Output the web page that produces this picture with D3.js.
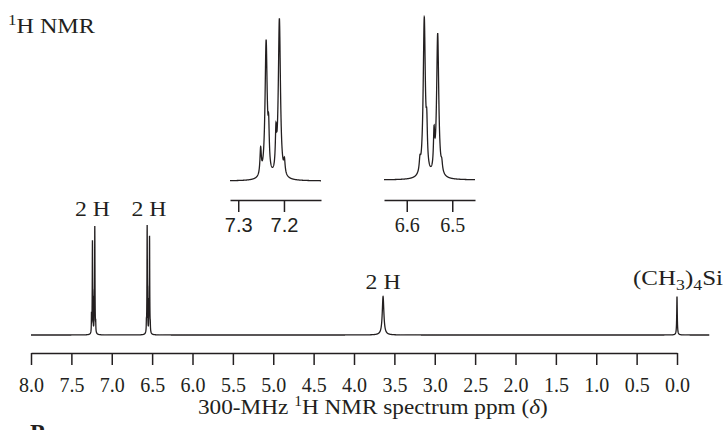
<!DOCTYPE html>
<html><head><meta charset="utf-8">
<script src="https://cdn.jsdelivr.net/npm/d3@7"></script>
<style>body{margin:0;background:#fff}svg{display:block}</style>
</head><body><svg id="c" width="725" height="430"></svg>
<script>
// ---- data ----
const peakPpm    = [7.251, 7.239, 7.2335, 7.2175, 7.210, 7.199, 6.571, 6.5615, 6.556, 6.540, 6.532, 6.523, 3.64, 0.00];
const peakHeight = [16,    83,    22,     22,     97,    8,     7,     97,     22,    22,    88,    5,     35,   35];
const peakWidth  = [0.0018,0.0028,0.0016, 0.0016, 0.0028,0.0018,0.0018,0.0028, 0.0016,0.0016,0.0028,0.0018,0.012,0.004];
const mainTicks  = [8.0, 7.5, 7.0, 6.5, 6.0, 5.5, 5.0, 4.5, 4.0, 3.5, 3.0, 2.5, 2.0, 1.5, 1.0, 0.5, 0.0];
const inset1Ticks = [7.3, 7.2];
const inset2Ticks = [6.6, 6.5];
const integrationLabels = ["2 H", "2 H", "2 H"];
const integrationPpm = [7.22, 6.545, 3.64];

const INK = "#231f20";
const svg = d3.select("#c");

function intensity(x){
  let s = 0;
  for (let i = 0; i < peakPpm.length; i++){
    const w = peakWidth[i], d = x - peakPpm[i];
    s += peakHeight[i] * w * w / (d * d + w * w);
  }
  return s;
}
function grid(a, b, step){
  const g = d3.range(a, b, -step).concat(peakPpm.filter(p => p <= a && p >= b));
  g.sort((p, q) => q - p);
  return g.map(x => [x, intensity(x)]);
}
const mainData = grid(8.0, -0.4, 0.0004);
const maxI = d3.max(mainData, d => d[1]);

// ---- main spectrum ----
const xMain = d3.scaleLinear().domain([8, 0]).range([31, 677]);
const yMain = d3.scaleLinear().domain([0, maxI]).range([335, 225]);
svg.append("path").datum(mainData)
  .attr("d", d3.line().x(d => xMain(d[0])).y(d => yMain(d[1])))
  .attr("fill", "none").attr("stroke", INK).attr("stroke-width", 1.3);

const axMain = svg.append("g").attr("transform", "translate(0,353)")
  .call(d3.axisBottom(xMain).tickValues(mainTicks).tickSize(12).tickSizeOuter(0).tickFormat(d3.format(".1f")));
axMain.select(".domain").attr("stroke", INK).attr("stroke-width", 1.5);
axMain.selectAll(".tick line").attr("stroke", INK).attr("stroke-width", 1.5);
axMain.selectAll(".tick text").attr("y", 39).attr("dy", 0)
  .attr("font-family", "'Liberation Serif', serif").attr("font-size", 20).attr("fill", INK);

// ---- insets ----
function inset(dom, range, base, ticks, fontFam){
  const x = d3.scaleLinear().domain(dom).range(range);
  const y = d3.scaleLinear().domain([0, maxI]).range([base, 17]);
  const data = grid(dom[0], dom[1], 0.0002);
  svg.append("path").datum(data)
    .attr("d", d3.line().x(d => x(d[0])).y(d => y(d[1])))
    .attr("fill", "none").attr("stroke", INK).attr("stroke-width", 1.3);
  const ax = svg.append("g").attr("transform", "translate(0,200)")
    .call(d3.axisBottom(x).tickValues(ticks).tickSize(12).tickSizeOuter(0).tickFormat(d3.format(".1f")));
  ax.select(".domain").attr("stroke", INK).attr("stroke-width", 1.5);
  ax.selectAll(".tick line").attr("stroke", INK).attr("stroke-width", 1.5);
  ax.selectAll(".tick text").attr("y", 32).attr("dy", 0)
    .attr("font-family", fontFam).attr("font-size", 20).attr("fill", INK);
}
inset([7.318, 7.119], [230, 321], 181, inset1Ticks, "'Liberation Sans', sans-serif");
inset([6.650, 6.450], [384, 475], 180, inset2Ticks, "'Liberation Serif', serif");

// ---- text helpers ----
function fit(t, x, y, W, anchor){
  t.attr("text-anchor", anchor || "start");
  const w = t.node().getComputedTextLength();
  t.attr("transform", `translate(${x},${y}) scale(${W / w},1)`);
}
function txt(size){
  return svg.append("text").attr("font-family", "'Liberation Serif', serif")
    .attr("font-size", size).attr("fill", INK);
}

// integration labels
const labY = [216, 216, 289];
integrationLabels.forEach((l, i) => {
  const cx = i === 0 ? 92.5 : i === 1 ? 149 : xMain(integrationPpm[i]);
  const t = txt(22).text(l);
  fit(t, cx, labY[i], 35, "middle");
});

// TMS label
{
  const t = txt(21);
  t.append("tspan").text("(CH");
  t.append("tspan").attr("font-size", 15).attr("dy", 5).text("3");
  t.append("tspan").attr("dy", -5).text(")");
  t.append("tspan").attr("font-size", 15).attr("dy", 5).text("4");
  t.append("tspan").attr("dy", -5).text("Si");
  fit(t, 633, 285, 90);
}

// top-left label
{
  const t = txt(20);
  t.append("tspan").attr("font-size", 14).attr("dy", -8).text("1");
  t.append("tspan").attr("dy", 8).text("H NMR");
  fit(t, 8, 33, 87);
}

// axis title
{
  const t = txt(21);
  t.append("tspan").text("300-MHz ");
  t.append("tspan").attr("font-size", 14).attr("dy", -8).text("1");
  t.append("tspan").attr("dy", 8).text("H NMR spectrum ppm (");
  t.append("tspan").attr("font-style", "italic").text("\u03b4");
  t.append("tspan").text(")");
  fit(t, 198, 414, 350);
}

// cropped panel letter at bottom (cut off in the reference as well)
svg.append("text").attr("x", 30).attr("y", 440)
  .attr("font-family", "'Liberation Serif', serif").attr("font-weight", "bold")
  .attr("font-size", 24).attr("fill", INK).text("P");
</script></body></html>
